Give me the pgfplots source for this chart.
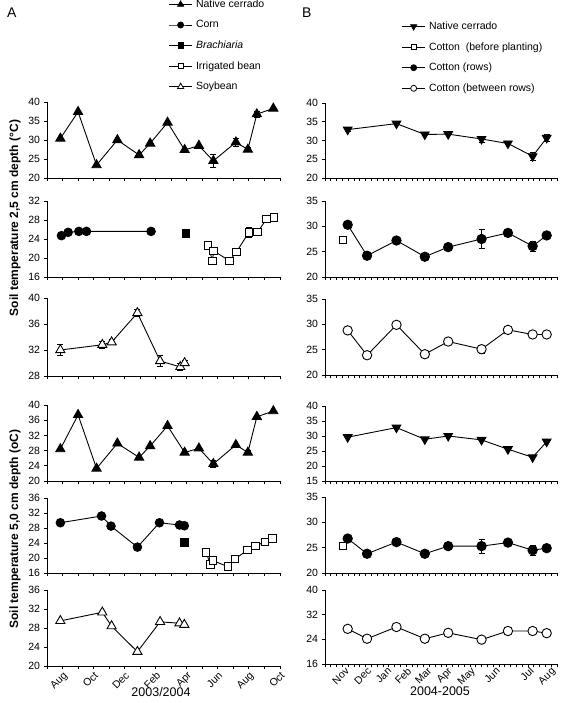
\documentclass[border=0pt]{standalone}
\usepackage{pgfplots}
\pgfplotsset{compat=1.18}
\usepackage{fontspec}
\setmainfont{Liberation Sans}
\newcommand{\fs}{\fontsize{10.5}{12.6}\selectfont}
\pgfplotsset{
  panel/.style={scale only axis, clip=false,
    axis x line*=bottom, axis y line*=left,
    axis line style={line width=0.9pt,-},
    every tick/.style={black, line width=0.9pt},
    tick align=outside, major tick length=3.5pt, minor tick length=3.5pt,
    ticklabel style={font=\fs},
    /pgf/number format/assume math mode=true},
  colA/.style={panel, width=233pt, xmin=-1, xmax=14, xtick={0,2,...,14}, minor xtick={-1,1,...,13}},
  colB/.style={panel, width=232pt, xmin=0, xmax=40, xtick={0,...,40}},
  nolab/.style={xticklabels={}},
  errs/.style={forget plot, only marks, mark=none,
    error bars/.cd, y dir=both, y explicit,
    error bar style={draw=black, line width=0.8pt},
    error mark options={draw=black, rotate=90, mark size=3pt, line width=0.8pt}},
  sA/.style={forget plot, black, line width=0.9pt},
  triF/.style={sA, mark=triangle*, mark size=5.3pt, mark options={fill=black}},
  triO/.style={sA, mark=triangle*, mark size=5.3pt, mark options={fill=white}},
  dtriF/.style={sA, mark=triangle*, mark size=5pt, mark options={fill=black, rotate=180}},
  cirF/.style={sA, mark=*, mark size=4.3pt, mark options={fill=black}},
  cirO/.style={sA, mark=*, mark size=4.7pt, mark options={fill=white}},
  sqF/.style={sA, mark=square*, mark size=3.8pt, mark options={fill=black}},
  sqO/.style={sA, mark=square*, mark size=3.8pt, mark options={fill=white}},
  leg/.style={legend cell align=left,
    legend style={draw=none, fill=none, font=\fs, row sep=4.5pt, inner sep=0pt, nodes={inner sep=3.5pt}},
    legend image code/.code={\draw[##1, mark repeat=2, mark phase=2] plot coordinates {(0pt,0pt) (11.5pt,0pt) (23pt,0pt)};}},
}
\begin{document}
\begin{tikzpicture}[x=1pt,y=1pt]
\useasboundingbox (0,0) rectangle (567,703);
\node[font=\fontsize{14}{16}\selectfont, anchor=north west, inner sep=0] at (7,695) {A};
\node[font=\fontsize{14}{16}\selectfont, anchor=north west, inner sep=0] at (302,695) {B};
\node[rotate=90, font=\bfseries\fontsize{12}{14}\selectfont] at (15,485) {Soil temperature 2,5 cm depth (°C)};
\node[rotate=90, font=\bfseries\fontsize{12}{14}\selectfont] at (15,174) {Soil temperature 5,0 cm depth (oC)};
\node[font=\fontsize{12.5}{15}\selectfont] at (161,11) {2003/2004};
\node[font=\fontsize{12.5}{15}\selectfont] at (440,12) {2004-2005};

% ---------- A1 ----------
\begin{axis}[colA, nolab, leg, at={(47pt,525pt)}, anchor=south west, height=76pt,
  ymin=20, ymax=40, ytick={20,25,...,40},
  legend style={at={(0.5215,2.391)}, anchor=north west}]
\addlegendimage{black, line width=0.8pt, mark=triangle*, mark size=3.5pt, mark options={fill=black}}
\addlegendentry{Native cerrado}
\addlegendimage{black, line width=0.8pt, mark=*, mark size=3pt, mark options={fill=black}}
\addlegendentry{Corn}
\addlegendimage{black, line width=0.8pt, mark=square*, mark size=2.7pt, mark options={fill=black}}
\addlegendentry{\itshape Brachiaria}
\addlegendimage{black, line width=0.8pt, mark=square*, mark size=2.7pt, mark options={fill=white}}
\addlegendentry{Irrigated bean}
\addlegendimage{black, line width=0.8pt, mark=triangle*, mark size=3.5pt, mark options={fill=white}}
\addlegendentry{Soybean}
\addplot[errs] coordinates {(9.71,24.5) +- (0,1.6) (11.16,29.4) +- (0,1.1) (11.93,27.5) +- (0,0.6) (12.51,36.8) +- (0,0.8)};
\addplot[triF] coordinates {(-0.14,30.4) (1.0,37.4) (2.19,23.4) (3.53,30.0) (4.93,26.05) (5.64,29.1) (6.76,34.6) (7.86,27.4) (8.78,28.5) (9.71,24.5) (11.16,29.4) (11.93,27.5) (12.51,36.8) (13.57,38.3)};
\end{axis}

% ---------- A2 ----------
\begin{axis}[colA, nolab, at={(47pt,426pt)}, anchor=south west, height=76pt,
  ymin=16, ymax=32, ytick={16,20,...,32}]
\addplot[errs] coordinates {(12.0,25.4) +- (0,1.0) (13.6,28.5) +- (0,0.6)};
\addplot[cirF] coordinates {(-0.07,24.7) (0.36,25.4) (1.05,25.6) (1.54,25.6) (5.70,25.6)};
\addplot[sqF] coordinates {(7.94,25.2)};
\addplot[sqO] coordinates {(9.37,22.7) (9.65,19.4) (9.73,21.5) (10.75,19.4) (11.2,21.3) (12.0,25.4) (12.56,25.5) (13.14,28.2) (13.6,28.5)};
\end{axis}

% ---------- A3 ----------
\begin{axis}[colA, nolab, at={(47pt,327pt)}, anchor=south west, height=78pt,
  ymin=28, ymax=40, ytick={28,32,...,40}]
\addplot[errs] coordinates {(-0.14,32.0) +- (0,0.8) (2.56,32.8) +- (0,0.5) (3.16,33.2) +- (0,0.4) (4.82,37.7) +- (0,0.5) (6.28,30.3) +- (0,0.8) (7.58,29.4) +- (0,0.5) (7.86,30.0) +- (0,0.4)};
\addplot[triO] coordinates {(-0.14,32.0) (2.56,32.8) (3.16,33.2) (4.82,37.7) (6.28,30.3) (7.58,29.4) (7.86,30.0)};
\end{axis}

% ---------- A4 ----------
\begin{axis}[colA, nolab, at={(47pt,222pt)}, anchor=south west, height=76pt,
  ymin=20, ymax=40, ytick={20,24,...,40}]
\addplot[errs] coordinates {(9.71,24.5) +- (0,1.0) (11.93,27.5) +- (0,0.6)};
\addplot[triF] coordinates {(-0.14,28.4) (1.0,37.4) (2.19,23.3) (3.53,29.9) (4.93,26.2) (5.64,29.2) (6.76,34.5) (7.86,27.5) (8.78,28.6) (9.71,24.5) (11.16,29.5) (11.93,27.5) (12.51,36.9) (13.57,38.4)};
\end{axis}

% ---------- A5 ----------
\begin{axis}[colA, nolab, at={(47pt,130pt)}, anchor=south west, height=75pt,
  ymin=16, ymax=36, ytick={16,20,...,36}]
\addplot[cirF] coordinates {(-0.14,29.4) (2.51,31.2) (3.12,28.5) (4.82,22.9) (6.24,29.4) (7.53,28.8) (7.84,28.6)};
\addplot[sqF] coordinates {(7.84,24.1)};
\addplot[sqO] coordinates {(9.24,21.5) (9.52,18.3) (9.68,19.3) (10.64,17.7) (11.1,19.7) (11.89,22.1) (12.43,23.2) (13.03,24.3) (13.53,25.2)};
\end{axis}

% ---------- A6 ----------
\begin{axis}[colA, at={(47pt,37pt)}, anchor=south west, height=76pt,
  ymin=20, ymax=36, ytick={20,24,...,36},
  xticklabels={Aug,Oct,Dec,Feb,Apr,Jun,Aug,Oct},
  xticklabel style={rotate=45, anchor=north east, inner sep=1pt, font=\fs}]
\addplot[triO] coordinates {(-0.14,29.5) (2.56,31.3) (3.16,28.4) (4.82,23.0) (6.28,29.3) (7.53,29.0) (7.84,28.7)};
\end{axis}

% ---------- B1 ----------
\begin{axis}[colB, nolab, leg, at={(325pt,525pt)}, anchor=south west, height=75pt,
  ymin=20, ymax=40, ytick={20,25,...,40},
  legend style={at={(0.33,2.13)}, anchor=north west}]
\addlegendimage{black, line width=0.8pt, mark=triangle*, mark size=3.5pt, mark options={fill=black, rotate=180}}
\addlegendentry{Native cerrado}
\addlegendimage{black, line width=0.8pt, mark=square*, mark size=2.7pt, mark options={fill=white}}
\addlegendentry{Cotton\ \ (before planting)}
\addlegendimage{black, line width=0.8pt, mark=*, mark size=3pt, mark options={fill=black}}
\addlegendentry{Cotton (rows)}
\addlegendimage{black, line width=0.8pt, mark=*, mark size=3pt, mark options={fill=white}}
\addlegendentry{Cotton (between rows)}
\addplot[errs] coordinates {(3.91,32.9) +- (0,0.5) (26.99,30.4) +- (0,0.8) (35.8,25.8) +- (0,1.0) (38.22,30.7) +- (0,1.0)};
\addplot[dtriF] coordinates {(3.91,32.9) (12.32,34.5) (17.21,31.6) (21.24,31.7) (26.99,30.4) (31.54,29.2) (35.8,25.8) (38.22,30.7)};
\end{axis}

% ---------- B2 ----------
\begin{axis}[colB, nolab, at={(325pt,426pt)}, anchor=south west, height=76pt,
  ymin=20, ymax=35, ytick={20,25,...,35}]
\addplot[errs] coordinates {(12.32,27.2) +- (0,0.5) (26.99,27.5) +- (0,1.8) (35.8,26.1) +- (0,1.0) (38.22,28.2) +- (0,0.6)};
\addplot[cirF, mark size=4.7pt] coordinates {(3.91,30.3) (7.25,24.2) (12.32,27.2) (17.21,24.0) (21.24,25.9) (26.99,27.5) (31.54,28.7) (35.8,26.1) (38.22,28.2)};
\addplot[sqO, mark size=3.5pt, only marks] coordinates {(3.05,27.4)};
\end{axis}

% ---------- B3 ----------
\begin{axis}[colB, nolab, at={(325pt,328pt)}, anchor=south west, height=76pt,
  ymin=20, ymax=35, ytick={20,25,...,35}]
\addplot[errs] coordinates {(26.99,25.1) +- (0,0.8)};
\addplot[cirO] coordinates {(3.91,28.8) (7.25,23.9) (12.32,29.9) (17.21,24.1) (21.24,26.6) (26.99,25.1) (31.54,28.9) (35.8,28.0) (38.22,28.0)};
\end{axis}

% ---------- B4 ----------
\begin{axis}[colB, nolab, at={(325pt,222pt)}, anchor=south west, height=75pt,
  ymin=15, ymax=40, ytick={15,20,...,40}]
\addplot[dtriF] coordinates {(3.91,29.6) (12.32,32.8) (17.21,28.9) (21.24,30.0) (26.99,28.7) (31.54,25.6) (35.8,22.9) (38.22,28.1)};
\end{axis}

% ---------- B5 ----------
\begin{axis}[colB, nolab, at={(325pt,130pt)}, anchor=south west, height=76pt,
  ymin=20, ymax=35, ytick={20,25,...,35}]
\addplot[errs] coordinates {(26.99,25.3) +- (0,1.4) (35.8,24.5) +- (0,1.0)};
\addplot[cirF, mark size=4.7pt] coordinates {(3.91,26.8) (7.25,23.8) (12.32,26.1) (17.21,23.8) (21.24,25.3) (26.99,25.3) (31.54,26.0) (35.8,24.5) (38.22,24.9)};
\addplot[sqO, mark size=3.5pt, only marks] coordinates {(3.05,25.3)};
\end{axis}

% ---------- B6 ----------
\begin{axis}[colB, nolab, at={(325pt,39pt)}, anchor=south west, height=74pt,
  ymin=16, ymax=40, ytick={16,24,...,40},
  extra x ticks={3.2,7,10.5,13.9,17.4,20.9,24.9,29.2,35,38.7},
  extra x tick labels={Nov,Dec,Jan,Feb,Mar,Apr,May,Jun,Jul,Aug},
  extra x tick style={major tick length=0pt, xticklabel style={rotate=45, anchor=north east, inner sep=1pt, yshift=-1.5pt, font=\fs}}]
\addplot[cirO] coordinates {(3.91,27.4) (7.25,24.2) (12.32,28.0) (17.21,24.2) (21.24,26.1) (26.99,23.9) (31.54,26.7) (35.8,26.7) (38.22,26.0)};
\end{axis}
\end{tikzpicture}
\end{document}
